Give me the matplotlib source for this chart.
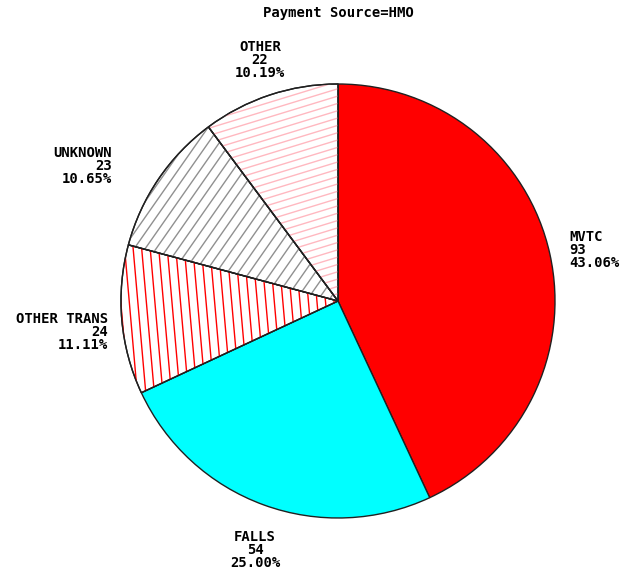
import numpy as np
import matplotlib.pyplot as plt
from matplotlib.collections import LineCollection
from matplotlib.patches import Wedge

title = "Payment Source=HMO"
categories = ["MVTC", "FALLS", "OTHER TRANS", "UNKNOWN", "OTHER"]
counts = [93, 54, 24, 23, 22]
pcts = ["43.06%", "25.00%", "11.11%", "10.65%", "10.19%"]

W, H = 623, 577
fig = plt.figure(figsize=(W / 100, H / 100), dpi=100)
ax = fig.add_axes([0, 0, 1, 1])
ax.axis("off")

cx, cy, r = 338, H - 301, 217

# fill / hatch style per slice: (face, hatch colour, angle deg, spacing px)
styles = [
    ("#ff0000", None, 0, 0),
    ("#00ffff", None, 0, 0),
    ("white", "#ff0000", 95, 8.5),
    ("white", "#909090", 55, 9),
    ("white", "#ffb8c0", 17, 7),
]

wedges, _ = ax.pie(counts, startangle=90, counterclock=False, center=(cx, cy),
                   radius=r, colors=[s[0] for s in styles],
                   wedgeprops=dict(edgecolor="#202020", linewidth=1.0))
ax.set_xlim(0, W)
ax.set_ylim(0, H)
ax.set_aspect("equal")

# hand-drawn hatching, clipped to each wedge
for w, (face, hc, ang, sp) in zip(wedges, styles):
    if hc is None:
        continue
    t = np.deg2rad(ang)
    d = np.array([np.cos(t), np.sin(t)])
    n = np.array([-d[1], d[0]])
    segs = []
    for off in np.arange(-r, r, sp):
        p = np.array([cx, cy]) + n * off
        segs.append([p - d * r * 1.5, p + d * r * 1.5])
    lc = LineCollection(segs, colors=hc, linewidths=1.0, zorder=w.get_zorder() + 0.1)
    ax.add_collection(lc)
    lc.set_clip_path(w)
    # redraw the edge above the hatching
    ax.add_patch(Wedge((cx, cy), r, w.theta1, w.theta2, fill=False,
                       edgecolor="#202020", linewidth=1.0,
                       zorder=w.get_zorder() + 0.2))

font = dict(family="DejaVu Sans Mono", fontweight="bold", fontsize=10)
fig.text(338 / W, 1 - 13 / H, title, ha="center", va="center", **font)

# label anchor points in pixels (x, y of first line) and alignment
label_pos = [(569, 237, "left"), (255, 537, "center"), (108, 319, "right"),
             (112, 153, "right"), (260, 47, "center")]
for (x, y, ha), c, n_, p in zip(label_pos, categories, counts, pcts):
    for i, s in enumerate([c, str(n_), p]):
        ax.text(x, H - (y + 13 * i), s, ha=ha, va="center", **font)

fig.savefig("out.png", dpi=100)
